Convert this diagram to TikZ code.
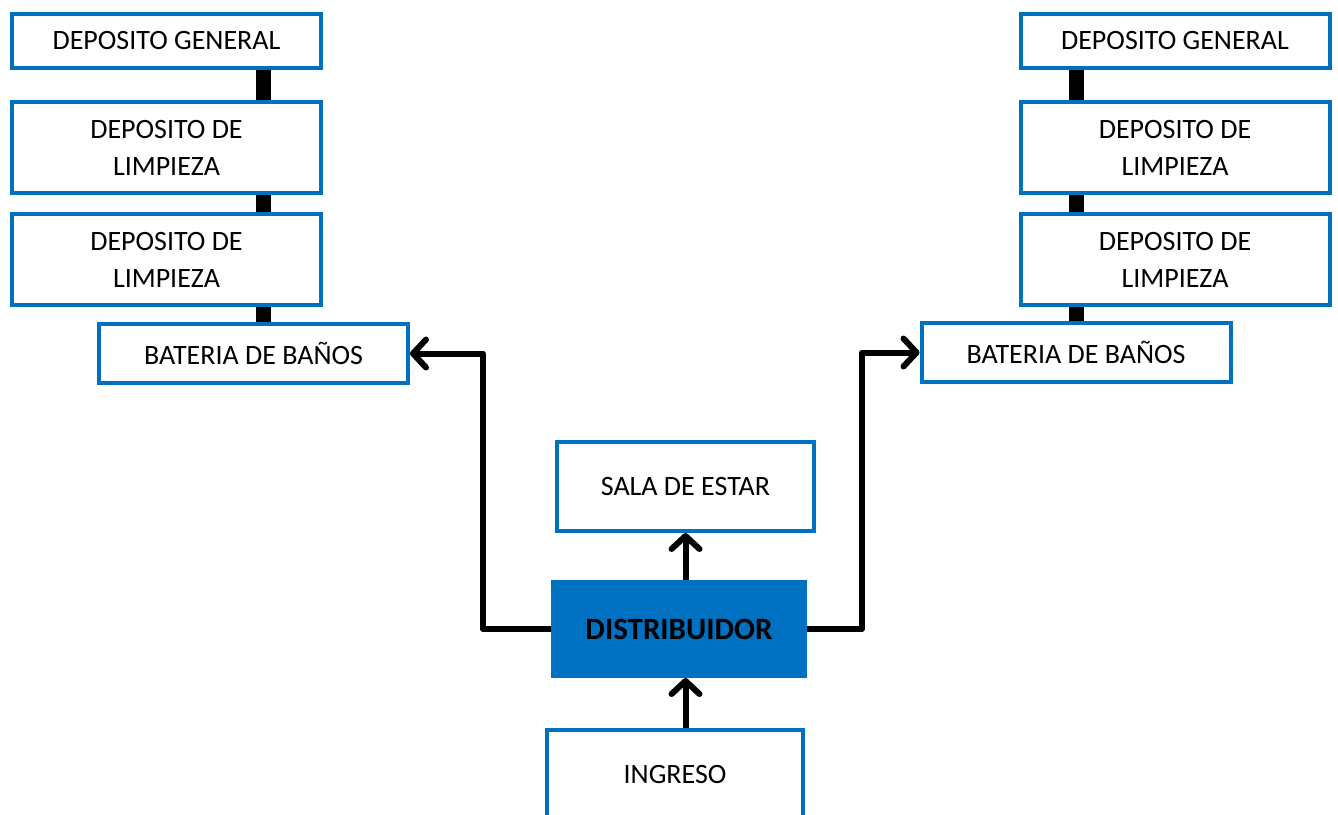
\documentclass[tikz,border=0pt]{standalone}
\usepackage{fontspec}
\setmainfont{Carlito}
\usepackage{tikz}
\usetikzlibrary{arrows.meta,positioning}
\definecolor{PLblue}{RGB}{0,112,192}

\begin{document}
\begin{tikzpicture}[
      x=0.5pt,y=-0.5pt,
      node distance=15pt,
      room/.style={draw=PLblue,line width=2pt,fill=white,minimum width=154.5pt,minimum height=27pt,
        inner sep=0pt,align=center,font=\fontsize{14}{18.5}\selectfont},
      tall/.style={minimum height=45.5pt},
      flat/.style={minimum height=29.5pt},
      hub/.style={draw=PLblue,line width=0.5pt,fill=PLblue,minimum width=127.5pt,minimum height=48.5pt,
        inner sep=0pt,font=\fontsize{15.5}{18}\selectfont\bfseries},
      link/.style={line width=7.5pt},
      arr/.style={-{Straight Barb[length=6.5pt,width=14pt,round]},line width=3pt,line join=round}
    ]
    \useasboundingbox (0,0) rectangle (1338,814);
    \clip (0,0) rectangle (1338,814);
    % left wing
    \node[room] (LDG) at (166.5,41) {DEPOSITO GENERAL};
    \node[room,tall,below=15pt of LDG] (LDL1) {DEPOSITO DE\\LIMPIEZA};
    \node[room,tall,below=8.5pt of LDL1] (LDL2) {DEPOSITO DE\\LIMPIEZA};
    \node[room,flat] (LBB) at (253.5,353.5) {BATERIA DE BAÑOS};
    % right wing
    \node[room] (RDG) at (1175,41) {DEPOSITO GENERAL};
    \node[room,tall,below=15pt of RDG] (RDL1) {DEPOSITO DE\\LIMPIEZA};
    \node[room,tall,below=8.5pt of RDL1] (RDL2) {DEPOSITO DE\\LIMPIEZA};
    \node[room,flat] (RBB) at (1076,352.5) {BATERIA DE BAÑOS};
    % centre
    \node[room,minimum width=128.5pt,minimum height=44.5pt] (sala) at (685.5,486.5) {SALA DE ESTAR};
    \node[hub] (dist) at (679,629) {DISTRIBUIDOR};
    \node[room,minimum width=128pt,minimum height=44.5pt] (ing) at (675,774.5) {INGRESO};

    \draw[link] ([xshift=48.25pt]LDG.south) -- ([xshift=48.25pt]LDL1.north);
    \draw[link] ([xshift=48.25pt]LDL1.south) -- ([xshift=48.25pt]LDL2.north);
    \draw[link] ([xshift=48.25pt]LDL2.south) -- ([xshift=4.75pt]LBB.north);
    \draw[link] ([xshift=-49.5pt]RDG.south) -- ([xshift=-49.5pt]RDL1.north);
    \draw[link] ([xshift=-49.5pt]RDL1.south) -- ([xshift=-49.5pt]RDL2.north);
    \draw[link] ([xshift=-49.5pt]RDL2.south) -- (RBB.north);

    \draw[arr] (dist.north -| sala.south) -- (sala.south);
    \draw[arr] (ing.north -| sala.south) -- (dist.south -| sala.south);
    \draw[arr] (dist.west) -- (dist.west -| 483,0) |- (LBB.east);
    \draw[arr] (dist.east) -- (dist.east -| 862,0) |- (RBB.west);
  \end{tikzpicture}
\end{document}
